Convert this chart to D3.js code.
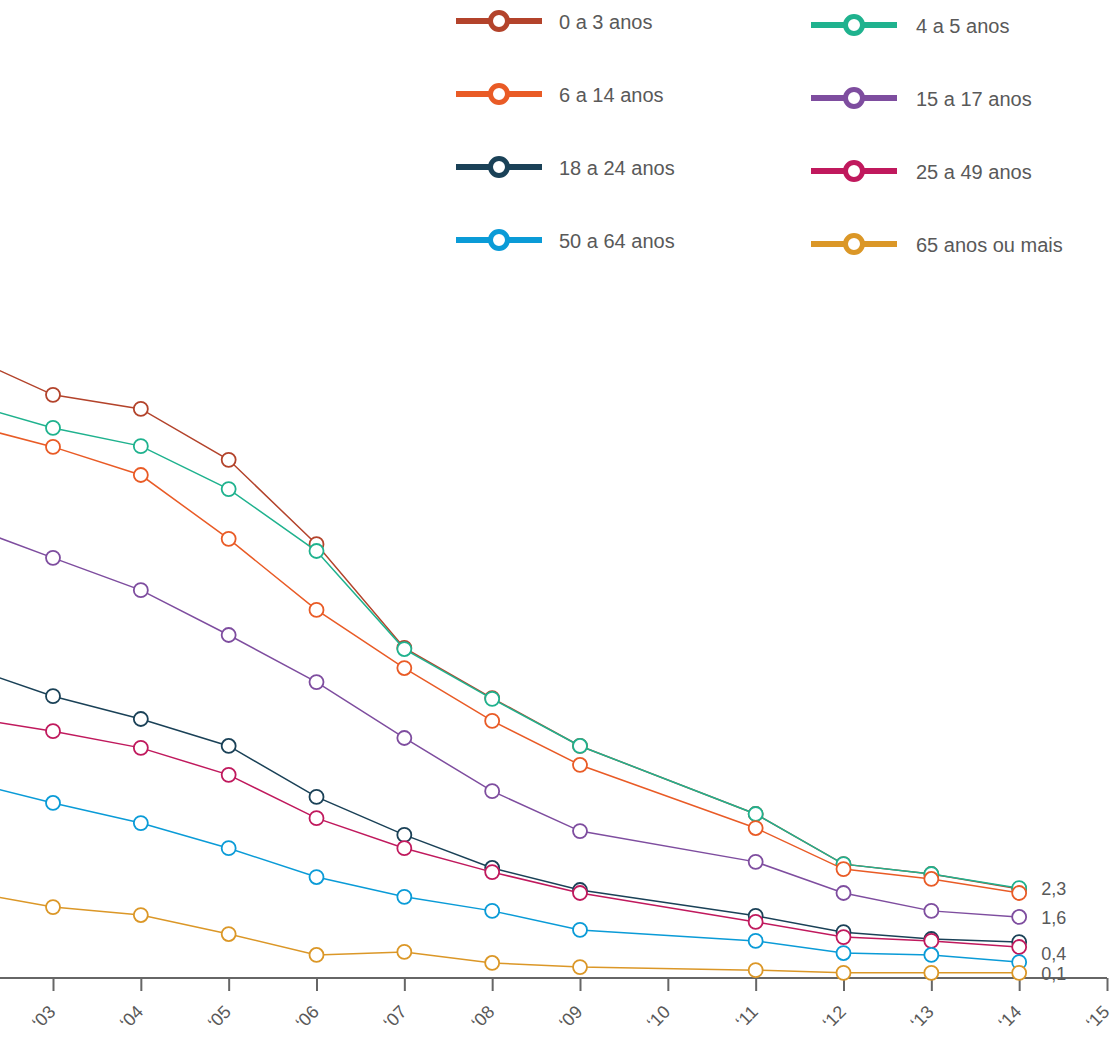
<!DOCTYPE html>
<html>
<head>
<meta charset="utf-8">
<script src="https://cdn.jsdelivr.net/npm/d3@7/dist/d3.min.js"></script>
<style>
  html, body { margin: 0; padding: 0; background: #fff; }
  svg { display: block; font-family: "Helvetica Neue", Helvetica, "Liberation Sans", Arial, sans-serif; }
</style>
</head>
<body>
<svg id="chart" width="1113" height="1040"></svg>
<script>
// ---------- DATA ----------
const years = [2002, 2003, 2004, 2005, 2006, 2007, 2008, 2009, 2011, 2012, 2013, 2014];
const ageGroups = ["0 a 3 anos", "4 a 5 anos", "6 a 14 anos", "15 a 17 anos",
                   "18 a 24 anos", "25 a 49 anos", "50 a 64 anos", "65 anos ou mais"];
const groupColors = ["#b3432b", "#1fb28e", "#e95b26", "#7e4d9f",
                     "#1a4157", "#c0195d", "#0a9bd7", "#db9727"];

const v0a3   = [16.37, 15.32, 14.95, 13.61, 11.39, 8.66, 7.34, 6.08, 4.29, 2.97, 2.71, 2.32];
const v4a5   = [15.11, 14.45, 13.97, 12.84, 11.21, 8.63, 7.32, 6.08, 4.29, 2.97, 2.71, 2.34];
const v6a14  = [14.55, 13.95, 13.21, 11.53, 9.66, 8.13, 6.74, 5.58, 3.92, 2.84, 2.58, 2.21];
const v15a17 = [11.89, 11.03, 10.18, 9.00, 7.76, 6.29, 4.89, 3.84, 3.03, 2.21, 1.74, 1.58];
const v18a24 = [8.18, 7.39, 6.79, 6.08, 4.74, 3.74, 2.87, 2.29, 1.61, 1.18, 1.00, 0.92];
const v25a49 = [6.84, 6.47, 6.03, 5.32, 4.18, 3.39, 2.76, 2.21, 1.45, 1.05, 0.95, 0.79];
const v50a64 = [5.16, 4.58, 4.05, 3.39, 2.63, 2.11, 1.74, 1.24, 0.95, 0.63, 0.58, 0.39];
const v65    = [2.26, 1.84, 1.63, 1.13, 0.58, 0.66, 0.37, 0.26, 0.18, 0.11, 0.11, 0.11];
const seriesValues = [v0a3, v4a5, v6a14, v15a17, v18a24, v25a49, v50a64, v65];

const tickYears = [2003, 2004, 2005, 2006, 2007, 2008, 2009, 2010, 2011, 2012, 2013, 2014, 2015];
const endLabelGroups = ["4 a 5 anos", "15 a 17 anos", "50 a 64 anos", "65 anos ou mais"];
const endLabelTexts  = ["2,3", "1,6", "0,4", "0,1"];

// ---------- LAYOUT ----------
const svg = d3.select("#chart");
const x = d3.scaleLinear().domain([2003, 2015]).range([53, 1107]);
const y = d3.scaleLinear().domain([0, 20]).range([977, 217]);
const axisY = 978;
const textColor = "#595959";

// x axis
const xAxis = d3.axisBottom(x)
  .tickValues(tickYears)
  .tickSize(13)
  .tickSizeOuter(0)
  .tickFormat(d => "\u2018" + String(d).slice(2));

const gAxis = svg.append("g")
  .attr("transform", `translate(0,${axisY})`)
  .call(xAxis);
gAxis.select(".domain").attr("stroke", "#666").attr("stroke-width", 2)
  .attr("d", `M${x(2001)},0H${x(2015)}`);
gAxis.selectAll(".tick line").attr("stroke", "#666").attr("stroke-width", 2);
gAxis.selectAll(".tick text")
  .attr("fill", textColor)
  .attr("font-size", 18)
  .attr("text-anchor", "end")
  .attr("dominant-baseline", "auto")
  .attr("y", 0).attr("dy", 0)
  .attr("transform", "translate(3,35) rotate(-45)");

// lines
const line = d3.line().x(d => x(d[0])).y(d => y(d[1]));

ageGroups.forEach((g, i) => {
  const pts = years.map((yr, j) => [yr, seriesValues[i][j]]);
  const grp = svg.append("g").attr("class", "series");
  grp.append("path")
    .datum(pts)
    .attr("d", line)
    .attr("fill", "none")
    .attr("stroke", groupColors[i])
    .attr("stroke-width", 1.5);
  grp.selectAll("circle")
    .data(pts)
    .join("circle")
    .attr("cx", d => x(d[0]))
    .attr("cy", d => y(d[1]))
    .attr("r", 7)
    .attr("fill", "#fff")
    .attr("stroke", groupColors[i])
    .attr("stroke-width", 1.8);
});

// end labels with simple collision avoidance (bottom-up)
const lastYear = years[years.length - 1];
const labelPos = endLabelGroups.map((g, k) => {
  const idx = ageGroups.indexOf(g);
  return { text: endLabelTexts[k], y: y(seriesValues[idx][years.length - 1]) };
});
for (let k = labelPos.length - 2; k >= 0; k--) {
  if (labelPos[k].y > labelPos[k + 1].y - 20) labelPos[k].y = labelPos[k + 1].y - 20;
}
svg.append("g").selectAll("text")
  .data(labelPos)
  .join("text")
  .attr("x", x(lastYear) + 22)
  .attr("y", d => d.y + 1)
  .attr("dy", "0.35em")
  .attr("font-size", 18)
  .attr("fill", textColor)
  .text(d => d.text);

// legend
const legend = svg.append("g");
ageGroups.forEach((g, i) => {
  const col = i % 2, row = Math.floor(i / 2);
  const lx = col === 0 ? 456 : 811;
  const ly = 21 + row * 73 + col * 4;
  const item = legend.append("g").attr("transform", `translate(${lx},${ly})`);
  item.append("line")
    .attr("x1", 0).attr("x2", 86).attr("y1", 0).attr("y2", 0)
    .attr("stroke", groupColors[i]).attr("stroke-width", 6);
  item.append("circle")
    .attr("cx", 43).attr("cy", 0).attr("r", 8.5)
    .attr("fill", "#fff")
    .attr("stroke", groupColors[i]).attr("stroke-width", 5);
  item.append("text")
    .attr("x", col === 0 ? 103 : 105)
    .attr("y", 1)
    .attr("dy", "0.35em")
    .attr("font-size", 20)
    .attr("fill", textColor)
    .text(g);
});
</script>
</body>
</html>
